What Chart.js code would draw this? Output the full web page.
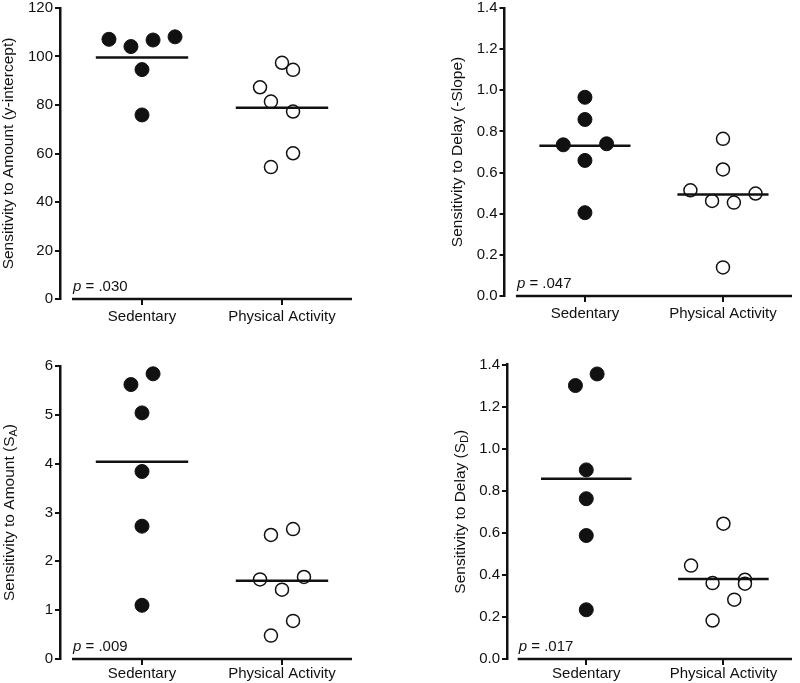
<!DOCTYPE html>
<html>
<head>
<meta charset="utf-8">
<script src="https://cdn.jsdelivr.net/npm/chart.js@4.4.1/dist/chart.umd.min.js"></script>
<style>
  body { margin: 0; background: #fff; }
  #wrap { position: relative; width: 800px; height: 683px; }
  #wrap canvas { position: absolute; }
</style>
</head>
<body>
<div id="wrap">
  <canvas id="c1" width="400" height="340" style="left:0;top:0"></canvas>
  <canvas id="c2" width="400" height="340" style="left:400px;top:0"></canvas>
  <canvas id="c3" width="400" height="343" style="left:0;top:340px"></canvas>
  <canvas id="c4" width="400" height="343" style="left:400px;top:340px"></canvas>
</div>
<script>
const groups = ['Sedentary', 'Physical Activity'];

// sensitivity to amount (y-intercept)
const interceptSed = [107.1, 104.1, 106.8, 108.1, 94.6, 75.9];
const interceptSedJitter = [-0.236, -0.079, 0.079, 0.236, 0, 0];
const interceptPA = [97.4, 94.5, 87.3, 81.4, 77.3, 60.1, 54.4];
const interceptPAJitter = [0, 0.079, -0.157, -0.079, 0.079, 0.079, -0.079];
const interceptMeans = [99.6, 78.9];

// sensitivity to delay (-slope)
const slopeSed = [0.966, 0.858, 0.735, 0.740, 0.659, 0.405];
const slopeSedJitter = [0, 0, -0.157, 0.157, 0, 0];
const slopePA = [0.764, 0.615, 0.514, 0.498, 0.462, 0.454, 0.139];
const slopePAJitter = [0, 0, -0.236, 0.236, -0.079, 0.079, 0];
const slopeMeans = [0.730, 0.494];

// sensitivity to amount (S_A)
const saSed = [5.62, 5.84, 5.04, 3.84, 2.72, 1.10];
const saSedJitter = [-0.079, 0.079, 0, 0, 0, 0];
const saPA = [2.54, 2.66, 1.63, 1.68, 1.42, 0.78, 0.48];
const saPAJitter = [-0.079, 0.079, -0.157, 0.157, 0, 0.079, -0.079];
const saMeans = [4.04, 1.60];

// sensitivity to delay (S_D)
const sdSed = [1.300, 1.355, 0.899, 0.762, 0.587, 0.234];
const sdSedJitter = [-0.079, 0.079, 0, 0, 0, 0];
const sdPA = [0.643, 0.444, 0.361, 0.377, 0.358, 0.282, 0.183];
const sdPAJitter = [0, -0.236, -0.079, 0.157, 0.157, 0.079, -0.079];
const sdMeans = [0.857, 0.380];

const pValues = ['.030', '.047', '.009', '.017'];

Chart.defaults.font.family = '"Liberation Sans", Arial, sans-serif';
Chart.defaults.color = '#111';

const INK = '#111';
const MEAN_HALF = 0.33;

function pts(vals, jit, cat) {
  return vals.map((v, i) => ({ x: cat + jit[i], y: v }));
}

function meanLine(m, cat) {
  return {
    data: [{ x: cat - MEAN_HALF, y: m }, { x: cat + MEAN_HALF, y: m }],
    showLine: true, borderColor: INK, borderWidth: 2.5, pointRadius: 0, order: 0
  };
}

function panel(id, cfg) {
  const canvas = document.getElementById(id);
  const W = canvas.width, H = canvas.height;
  const pxPerUnit = (cfg.right - cfg.axisStart) / 2;
  const xMin = 0.5 - (cfg.axisStart - cfg.left) / pxPerUnit;

  const decor = {
    id: 'decor',
    afterDraw(chart) {
      const { ctx, chartArea, scales } = chart;
      // x axis line, detached from the y axis
      ctx.save();
      ctx.strokeStyle = INK;
      ctx.lineWidth = 2.5;
      ctx.beginPath();
      ctx.moveTo(scales.x.getPixelForValue(0.5), chartArea.bottom);
      ctx.lineTo(scales.x.getPixelForValue(2.5), chartArea.bottom);
      ctx.stroke();

      // p value
      const px = scales.x.getPixelForValue(0.5) + 1;
      const py = chartArea.bottom - 8;
      ctx.fillStyle = INK;
      ctx.textBaseline = 'alphabetic';
      ctx.font = 'italic 15px "Liberation Sans", Arial, sans-serif';
      ctx.fillText('p', px, py);
      const w = ctx.measureText('p').width;
      ctx.font = '15px "Liberation Sans", Arial, sans-serif';
      ctx.fillText(' = ' + cfg.p, px + w, py);

      // rotated y title with optional subscript
      const cy = (chartArea.top + chartArea.bottom) / 2;
      ctx.translate(cfg.titleX, cy);
      ctx.rotate(-Math.PI / 2);
      const big = '15.5px "Liberation Sans", Arial, sans-serif';
      const small = '11px "Liberation Sans", Arial, sans-serif';
      let total = 0;
      cfg.title.forEach(p => { ctx.font = p.sub ? small : big; total += ctx.measureText(p.t).width; });
      let x = -total / 2;
      ctx.textBaseline = 'middle';
      cfg.title.forEach(p => {
        ctx.font = p.sub ? small : big;
        ctx.fillText(p.t, x, p.sub ? 4 : 0);
        x += ctx.measureText(p.t).width;
      });
      ctx.restore();
    }
  };

  new Chart(canvas, {
    type: 'scatter',
    data: {
      datasets: [
        meanLine(cfg.means[0], 1),
        meanLine(cfg.means[1], 2),
        {
          data: pts(cfg.sed, cfg.sedJ, 1),
          pointRadius: 7, pointBackgroundColor: INK, pointBorderColor: INK,
          pointBorderWidth: 1, order: 1
        },
        {
          data: pts(cfg.pa, cfg.paJ, 2),
          pointRadius: 6.5, pointBackgroundColor: '#fff', pointBorderColor: INK,
          pointBorderWidth: 1.5, order: 1
        }
      ]
    },
    options: {
      responsive: false,
      animation: false,
      layout: { padding: { top: cfg.top, right: W - cfg.right, left: 0, bottom: 0 } },
      plugins: { legend: { display: false }, tooltip: { enabled: false } },
      scales: {
        x: {
          type: 'linear', min: xMin, max: 2.5,
          afterBuildTicks: s => { s.ticks = [{ value: 1 }, { value: 2 }]; },
          afterFit: s => { s.height = H - cfg.bottom; s.paddingLeft = 0; s.paddingRight = 0; },
          ticks: {
            callback: v => groups[v - 1], autoSkip: false, maxRotation: 0,
            padding: cfg.labelPad, color: INK, font: { size: 15 }
          },
          grid: { drawOnChartArea: false, tickLength: 6, lineWidth: 2, color: INK },
          border: { display: false }
        },
        y: {
          min: 0, max: cfg.yMax,
          afterFit: s => { s.width = cfg.left; s.paddingTop = 0; s.paddingBottom = 0; },
          ticks: {
            stepSize: cfg.step, padding: 2, color: INK, font: { size: 15 },
            callback: v => v.toFixed(cfg.dec)
          },
          grid: { drawOnChartArea: false, tickLength: 5, lineWidth: 2, color: INK },
          border: { display: true, color: INK, width: 2.5 }
        }
      }
    },
    plugins: [decor]
  });
}

panel('c1', {
  left: 60, axisStart: 72, right: 352, top: 7, bottom: 299, titleX: 9, labelPad: 3,
  yMax: 120, step: 20, dec: 0, p: pValues[0],
  title: [{ t: 'Sensitivity to Amount (y-intercept)' }],
  sed: interceptSed, sedJ: interceptSedJitter, pa: interceptPA, paJ: interceptPAJitter, means: interceptMeans
});

panel('c2', {
  left: 104.5, axisStart: 116, right: 394, top: 6, bottom: 296, titleX: 58, labelPad: 3,
  yMax: 1.4, step: 0.2, dec: 1, p: pValues[1],
  title: [{ t: 'Sensitivity to Delay (-Slope)' }],
  sed: slopeSed, sedJ: slopeSedJitter, pa: slopePA, paJ: slopePAJitter, means: slopeMeans
});

panel('c3', {
  left: 60, axisStart: 72, right: 352, top: 26, bottom: 319, titleX: 10, labelPad: 0,
  yMax: 6, step: 1, dec: 0, p: pValues[2],
  title: [{ t: 'Sensitivity to Amount (S' }, { t: 'A', sub: true }, { t: ')' }],
  sed: saSed, sedJ: saSedJitter, pa: saPA, paJ: saPAJitter, means: saMeans
});

panel('c4', {
  left: 107, axisStart: 118, right: 400, top: 24.5, bottom: 319, titleX: 61, labelPad: 0,
  yMax: 1.4, step: 0.2, dec: 1, p: pValues[3],
  title: [{ t: 'Sensitivity to Delay (S' }, { t: 'D', sub: true }, { t: ')' }],
  sed: sdSed, sedJ: sdSedJitter, pa: sdPA, paJ: sdPAJitter, means: sdMeans
});
</script>
</body>
</html>
